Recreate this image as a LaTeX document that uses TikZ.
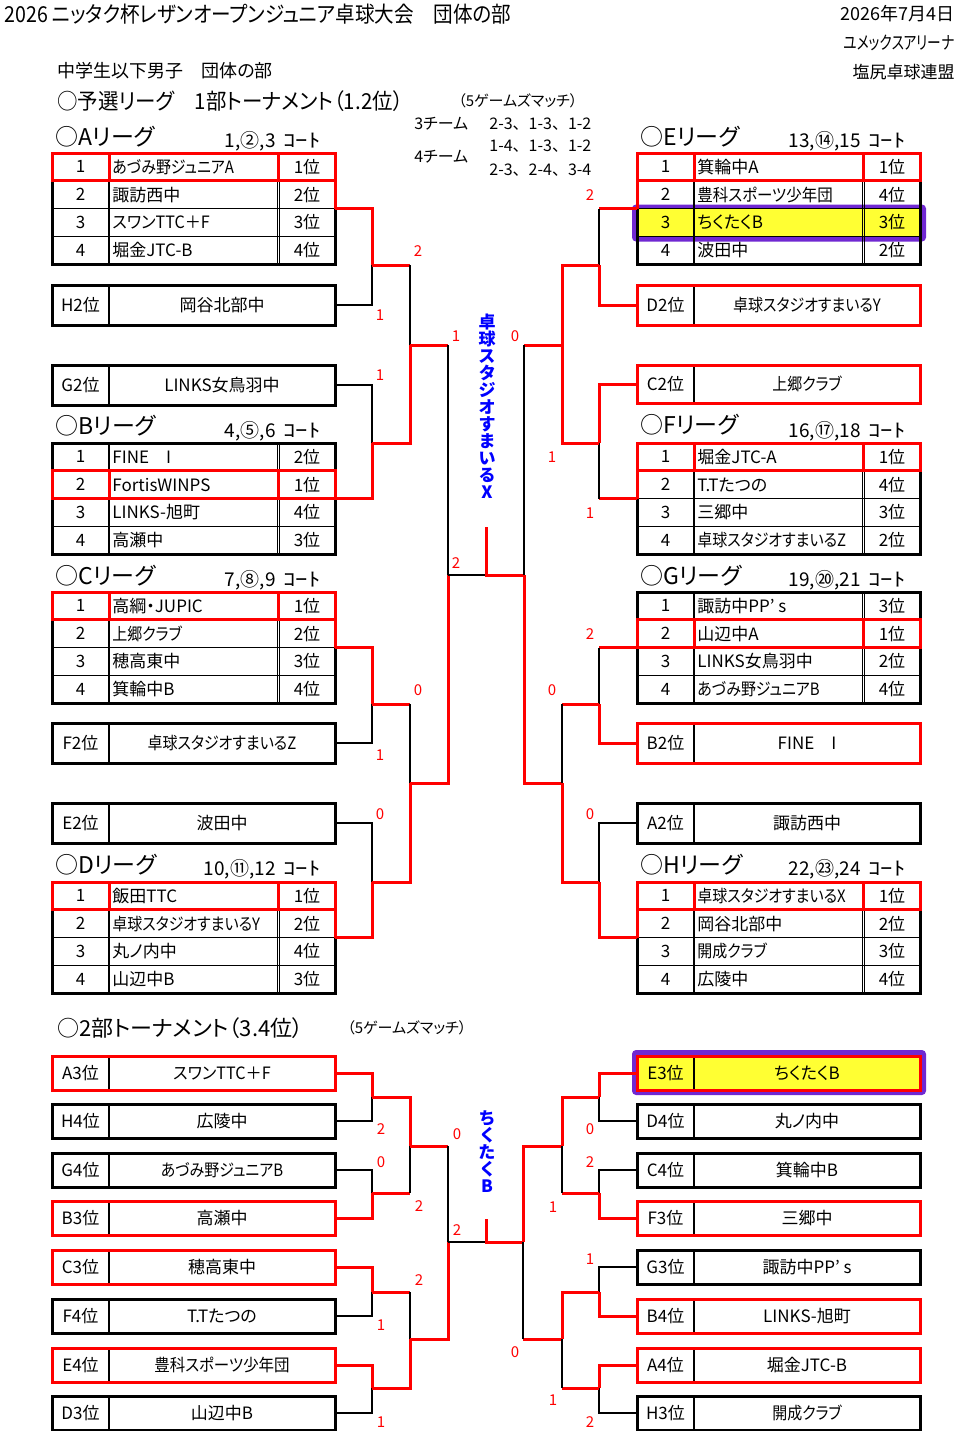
\documentclass[tikz,border=0pt]{standalone}
\usepackage{fontspec}
\usepackage{graphicx}
\setmainfont{Noto Sans CJK JP}[RawFeature=+palt]
\newfontfamily\jpf{Noto Sans CJK JP}
\definecolor{purp}{RGB}{112,40,210}
\definecolor{yel}{RGB}{255,255,51}
\newcommand\sx[2]{\scalebox{#1}[1]{#2}}
\newcommand\court{\hspace{4pt}\sx{1.3}{ｺｰﾄ}}
\tikzset{
 txt/.style={font=\fontsize{8.5}{9}\selectfont, inner sep=0pt},
 ttl/.style={font=\fontsize{11.5}{12}\selectfont, inner sep=0pt},
 crt/.style={font=\jpf\fontsize{9.5}{10}\selectfont, inner sep=0pt},
 sc/.style={text=red, font=\fontsize{7.5}{8}\selectfont, inner sep=0pt},
 rl/.style={draw=red, line width=1.5pt},
 bl/.style={draw=black, line width=0.65pt},
 thinl/.style={line width=0.65pt},
 framel/.style={line width=1.5pt},
 win/.style={text=blue, font=\bfseries\fontsize{8.5}{8.5}\selectfont, align=center, inner sep=0pt},
}
% league table frame: id, x0, y0
\newcommand\league[3]{%
  \coordinate (#1-e) at (#2+283,#3+55.5);
  \coordinate (#1-w) at (#2,#3+55.5);
  \foreach \k in {1,2,3} \draw[thinl] (#2,#3+27.75*\k) -- ++(283,0);
  \draw[thinl] (#2+57,#3) -- ++(0,111) (#2+225.5,#3) -- ++(0,111) (#2+227.5,#3) -- ++(0,111);
  \draw[framel] (#2,#3) rectangle ++(283,111);
}
% row text: id, x0, y0, i, num, name, rank
\newcommand\lrow[7]{%
  \node[txt] (#1-#4n) at (#2+28.5,#3+27.75*#4-13.875) {#5};
  \node[txt,anchor=west] (#1-#4t) at (#2+60,#3+27.75*#4-13.875) {#6};
  \node[txt] (#1-#4r) at (#2+255,#3+27.75*#4-13.875) {#7};
}
% highlighted row: x0, y0, i
\newcommand\hlrow[3]{%
  \draw[rl] (#1,#2+27.75*#3-27.75) rectangle ++(283,27.75);
  \draw[rl] (#1+57,#2+27.75*#3-27.75) -- ++(0,27.75) (#1+226.5,#2+27.75*#3-27.75) -- ++(0,27.75);
}
% team box: id, x0, ytop, h, label, name, colour
\newcommand\teambox[7]{%
  \draw[thinl] (#2+57,#3) -- ++(0,#4);
  \draw[line width=1.5pt, draw=#7] (#2,#3) rectangle ++(283,#4);
  \node[txt] (#1-l) at (#2+28.5,#3+#4/2) {#5};
  \node[txt] (#1-n) at (#2+170,#3+#4/2) {#6};
  \coordinate (#1-e) at (#2+283,#3+#4/2);
  \coordinate (#1-w) at (#2,#3+#4/2);
}
\begin{document}
\begin{tikzpicture}[x=0.5pt,y=-0.5pt]
\useasboundingbox (0,0) rectangle (960,1431);
\fill[white] (0,0) rectangle (960,1431);

% ---------- header ----------
\node[anchor=west, inner sep=0pt, font=\fontsize{11}{12}\selectfont] (title) at (4,14) {\sx{0.89}{2026 ニッタク杯レザンオープンジュニア卓球大会　団体の部}};
\node[anchor=east, inner sep=0pt, font=\fontsize{9}{10}\selectfont] (date) at (955,14) {2026年7月4日};
\node[anchor=east, inner sep=0pt, font=\fontsize{9}{10}\selectfont] (venue) at (955,43) {\sx{0.76}{ユメックスアリーナ}};
\node[anchor=east, inner sep=0pt, font=\fontsize{8.5}{10}\selectfont] (org) at (955,72) {塩尻卓球連盟};
\node[anchor=west, inner sep=0pt, font=\fontsize{9}{10}\selectfont] (sub) at (57,71) {中学生以下男子　団体の部};
\node[ttl, anchor=west, font=\fontsize{11}{12}\selectfont] (sec1) at (57,101) {\sx{0.93}{○予選リーグ　1部トーナメント（1.2位）}};
\node[anchor=west, inner sep=0pt, font=\fontsize{7.5}{8}\selectfont] (gm1) at (458,101) {（5ゲームズマッチ）};
\node[anchor=west, inner sep=0pt, font=\fontsize{8}{9}\selectfont] (t3) at (414,124) {3チーム};
\node[anchor=west, inner sep=0pt, font=\fontsize{8}{9}\selectfont] (t4) at (414,157) {4チーム};
\node[anchor=west, inner sep=0pt, font=\jpf\fontsize{8}{9}\selectfont] (o1) at (489,124) {2-3、1-3、1-2};
\node[anchor=west, inner sep=0pt, font=\jpf\fontsize{8}{9}\selectfont] (o2) at (489,146) {1-4、1-3、1-2};
\node[anchor=west, inner sep=0pt, font=\jpf\fontsize{8}{9}\selectfont] (o3) at (489,170) {2-3、2-4、3-4};

% ---------- league titles ----------
\node[ttl,anchor=west] (A-ttl) at (55,137) {○Aリーグ};
\node[crt,anchor=east] (A-crt) at (321,141) {1,②,3\court};
\node[ttl,anchor=west] (B-ttl) at (55,426) {○Bリーグ};
\node[crt,anchor=east] (B-crt) at (321,431) {4,⑤,6\court};
\node[ttl,anchor=west] (C-ttl) at (55,576) {○Cリーグ};
\node[crt,anchor=east] (C-crt) at (321,580) {7,⑧,9\court};
\node[ttl,anchor=west] (D-ttl) at (55,865) {○Dリーグ};
\node[crt,anchor=east] (D-crt) at (321,869) {10,⑪,12\court};
\node[ttl,anchor=west] (E-ttl) at (640,137) {○Eリーグ};
\node[crt,anchor=east] (E-crt) at (906,141) {13,⑭,15\court};
\node[ttl,anchor=west] (F-ttl) at (640,425) {○Fリーグ};
\node[crt,anchor=east] (F-crt) at (906,431) {16,⑰,18\court};
\node[ttl,anchor=west] (G-ttl) at (640,576) {○Gリーグ};
\node[crt,anchor=east] (G-crt) at (906,580) {19,⑳,21\court};
\node[ttl,anchor=west] (H-ttl) at (640,865) {○Hリーグ};
\node[crt,anchor=east] (H-crt) at (906,869) {22,㉓,24\court};

% ---------- league tables ----------
\draw[purp, line width=2.5pt, rounded corners=1pt] (634.5,207) rectangle (923.5,239);
\fill[yel] (637,208.5) rectangle (920,236.25);
\league{A}{52}{153}
\league{B}{52}{443}
\league{C}{52}{592}
\league{D}{52}{882}
\league{E}{637}{153}
\league{F}{637}{443}
\league{G}{637}{592}
\league{H}{637}{882}

\lrow{A}{52}{153}{1}{1}{\sx{0.88}{あづみ野ジュニアA}}{1位}
\lrow{A}{52}{153}{2}{2}{諏訪西中}{2位}
\lrow{A}{52}{153}{3}{3}{\sx{0.95}{スワンTTC＋F}}{3位}
\lrow{A}{52}{153}{4}{4}{堀金JTC-B}{4位}
\lrow{B}{52}{443}{1}{1}{FINE　I}{2位}
\lrow{B}{52}{443}{2}{2}{FortisWINPS}{1位}
\lrow{B}{52}{443}{3}{3}{LINKS-旭町}{4位}
\lrow{B}{52}{443}{4}{4}{高瀬中}{3位}
\lrow{C}{52}{592}{1}{1}{高綱・JUPIC}{1位}
\lrow{C}{52}{592}{2}{2}{\sx{0.88}{上郷クラブ}}{2位}
\lrow{C}{52}{592}{3}{3}{穂高東中}{3位}
\lrow{C}{52}{592}{4}{4}{箕輪中B}{4位}
\lrow{D}{52}{882}{1}{1}{飯田TTC}{1位}
\lrow{D}{52}{882}{2}{2}{\sx{0.88}{卓球スタジオすまいるY}}{2位}
\lrow{D}{52}{882}{3}{3}{丸ノ内中}{4位}
\lrow{D}{52}{882}{4}{4}{山辺中B}{3位}
\lrow{E}{637}{153}{1}{1}{箕輪中A}{1位}
\lrow{E}{637}{153}{2}{2}{\sx{0.91}{豊科スポーツ少年団}}{4位}
\lrow{E}{637}{153}{3}{3}{ちくたくB}{3位}
\lrow{E}{637}{153}{4}{4}{波田中}{2位}
\lrow{F}{637}{443}{1}{1}{堀金JTC-A}{1位}
\lrow{F}{637}{443}{2}{2}{T.Tたつの}{4位}
\lrow{F}{637}{443}{3}{3}{三郷中}{3位}
\lrow{F}{637}{443}{4}{4}{\sx{0.88}{卓球スタジオすまいるZ}}{2位}
\lrow{G}{637}{592}{1}{1}{諏訪中PP’ s}{3位}
\lrow{G}{637}{592}{2}{2}{山辺中A}{1位}
\lrow{G}{637}{592}{3}{3}{LINKS女鳥羽中}{2位}
\lrow{G}{637}{592}{4}{4}{\sx{0.88}{あづみ野ジュニアB}}{4位}
\lrow{H}{637}{882}{1}{1}{\sx{0.88}{卓球スタジオすまいるX}}{1位}
\lrow{H}{637}{882}{2}{2}{岡谷北部中}{2位}
\lrow{H}{637}{882}{3}{3}{\sx{0.88}{開成クラブ}}{3位}
\lrow{H}{637}{882}{4}{4}{広陵中}{4位}

\hlrow{52}{153}{1}
\hlrow{52}{443}{2}
\hlrow{52}{592}{1}
\hlrow{52}{882}{1}
\hlrow{637}{153}{1}
\hlrow{637}{443}{1}
\hlrow{637}{592}{2}
\hlrow{637}{882}{1}
\draw[rl] (335,180.75) -- (335,208.5);
\draw[rl] (335,619.75) -- (335,647.5);
\draw[rl] (335,909.75) -- (335,937.5);
\draw[rl] (637,180.75) -- (637,208.5);
\draw[rl] (637,470.75) -- (637,498.5);
\draw[rl] (637,909.75) -- (637,937.5);

% ---------- second-place boxes ----------
\teambox{H2}{52}{285}{40}{H2位}{岡谷北部中}{black}
\teambox{G2}{52}{365}{40}{G2位}{LINKS女鳥羽中}{black}
\teambox{F2}{52}{723}{40}{F2位}{\sx{0.88}{卓球スタジオすまいるZ}}{black}
\teambox{E2}{52}{803}{40}{E2位}{波田中}{black}
\teambox{D2}{637}{285}{40}{D2位}{\sx{0.88}{卓球スタジオすまいるY}}{red}
\teambox{C2}{637}{365}{38}{C2位}{\sx{0.88}{上郷クラブ}}{red}
\teambox{B2}{637}{723}{40}{B2位}{FINE　I}{red}
\teambox{A2}{637}{803}{40}{A2位}{諏訪西中}{black}

% ---------- upper bracket joints ----------
\coordinate (a1) at (372,265);
\coordinate (a2) at (372,443);
\coordinate (a3) at (372,704);
\coordinate (a4) at (372,882);
\coordinate (b1) at (410,345);
\coordinate (b2) at (410,783);
\coordinate (c1) at (448,575);
\coordinate (fin) at (486,575);
\coordinate (fintop) at (486,527);
\coordinate (d1) at (599,265);
\coordinate (d2) at (599,443);
\coordinate (d3) at (599,704);
\coordinate (d4) at (599,882);
\coordinate (e1) at (562,345);
\coordinate (e2) at (562,783);
\coordinate (f1) at (524,575);

% left upper
\draw[rl] (A-e) -| (a1);
\draw[bl] (H2-e) -| (a1);
\draw[rl] (a1) -- (a1 -| b1);
\draw[bl] (a1 -| b1) -- (b1);
\draw[bl] (G2-e) -| (a2);
\draw[rl] (B-e) -| (a2);
\draw[rl] (a2) -| (b1);
\draw[rl] (b1) -- (b1 -| c1);
\draw[bl] (b1 -| c1) -- (c1);
\draw[rl] (C-e) -| (a3);
\draw[bl] (F2-e) -| (a3);
\draw[rl] (a3) -- (a3 -| b2);
\draw[bl] (a3 -| b2) -- (b2);
\draw[bl] (E2-e) -| (a4);
\draw[rl] (D-e) -| (a4);
\draw[rl] (a4) -| (b2);
\draw[rl] (b2) -| (c1);
\draw[bl] (c1) -- (fin);
\draw[rl] (fintop) -- (fin) -- (f1);
% right upper
\draw[rl] (e1) -- (e1 -| f1);
\draw[bl] (e1 -| f1) -- (f1);
\draw[rl] (e2) -| (f1);
\draw[rl] (E-w) -- (E-w -| d1);
\draw[bl] (E-w -| d1) -- (d1);
\draw[rl] (D2-w) -| (d1);
\draw[rl] (d1) -| (e1);
\draw[rl] (C2-w) -| (d2);
\draw[rl] (F-w) -- (F-w -| d2);
\draw[bl] (F-w -| d2) -- (d2);
\draw[rl] (d2) -| (e1);
\draw[rl] (G-w) -- (G-w -| d3);
\draw[bl] (G-w -| d3) -- (d3);
\draw[rl] (B2-w) -| (d3);
\draw[rl] (d3) -- (d3 -| e2);
\draw[bl] (d3 -| e2) -- (e2);
\draw[bl] (A2-w) -| (d4);
\draw[rl] (H-w) -| (d4);
\draw[rl] (d4) -| (e2);

% scores upper
\node[sc] (u1) at (418,251) {2};
\node[sc] (u2) at (380,315) {1};
\node[sc] (u3) at (380,375) {1};
\node[sc] (u4) at (456,336) {1};
\node[sc] (u5) at (456,563) {2};
\node[sc] (u6) at (418,690) {0};
\node[sc] (u7) at (380,755) {1};
\node[sc] (u8) at (380,814) {0};
\node[sc] (u9) at (590,195) {2};
\node[sc] (u10) at (515,336) {0};
\node[sc] (u11) at (552,457) {1};
\node[sc] (u12) at (590,513) {1};
\node[sc] (u13) at (590,634) {2};
\node[sc] (u14) at (552,690) {0};
\node[sc] (u15) at (590,814) {0};

\node[win] (winA) at (487,406) {卓\\球\\ス\\タ\\ジ\\オ\\す\\ま\\い\\る\\X};

% ---------- second tournament ----------
\node[ttl, anchor=west, font=\fontsize{11}{12}\selectfont] (sec2) at (57,1028) {○2部トーナメント（3.4位）};
\node[anchor=west, inner sep=0pt, font=\fontsize{7.5}{8}\selectfont] (gm2) at (347,1028) {（5ゲームズマッチ）};

\draw[purp, line width=2.5pt, rounded corners=1pt] (634.5,1052.5) rectangle (923.5,1092.5);
\fill[yel] (637,1056) rectangle (920,1090);

\teambox{A3}{52}{1056}{34}{A3位}{\sx{0.95}{スワンTTC＋F}}{red}
\teambox{H4}{52}{1104}{34}{H4位}{広陵中}{black}
\teambox{G4}{52}{1153}{34}{G4位}{\sx{0.88}{あづみ野ジュニアB}}{black}
\teambox{B3}{52}{1201}{34}{B3位}{高瀬中}{red}
\teambox{C3}{52}{1250}{34}{C3位}{穂高東中}{red}
\teambox{F4}{52}{1299}{34}{F4位}{T.Tたつの}{black}
\teambox{E4}{52}{1348}{34}{E4位}{\sx{0.91}{豊科スポーツ少年団}}{red}
\teambox{D3}{52}{1396}{34}{D3位}{山辺中B}{black}
\teambox{E3}{637}{1056}{34}{E3位}{ちくたくB}{red}
\teambox{D4}{637}{1104}{34}{D4位}{丸ノ内中}{black}
\teambox{C4}{637}{1153}{34}{C4位}{箕輪中B}{black}
\teambox{F3}{637}{1201}{34}{F3位}{三郷中}{red}
\teambox{G3}{637}{1250}{34}{G3位}{諏訪中PP’ s}{black}
\teambox{B4}{637}{1299}{34}{B4位}{LINKS-旭町}{red}
\teambox{A4}{637}{1348}{34}{A4位}{堀金JTC-B}{red}
\teambox{H3}{637}{1396}{34}{H3位}{\sx{0.88}{開成クラブ}}{black}

\coordinate (p1) at (372,1097);
\coordinate (p2) at (372,1193);
\coordinate (p3) at (372,1292);
\coordinate (p4) at (372,1388);
\coordinate (q1) at (410,1146);
\coordinate (q2) at (410,1339);
\coordinate (r1) at (448,1242);
\coordinate (fin2) at (486,1242);
\coordinate (fin2top) at (486,1219);
\coordinate (s1) at (599,1097);
\coordinate (s2) at (599,1193);
\coordinate (s3) at (599,1292);
\coordinate (s4) at (599,1388);
\coordinate (t1) at (562,1146);
\coordinate (t2) at (562,1339);
\coordinate (v1) at (523,1242);

\draw[rl] (A3-e) -| (p1);
\draw[bl] (H4-e) -| (p1);
\draw[rl] (p1) -| (q1);
\draw[bl] (G4-e) -| (p2);
\draw[rl] (B3-e) -| (p2);
\draw[rl] (p2) -- (p2 -| q1);
\draw[bl] (p2 -| q1) -- (q1);
\draw[rl] (q1) -- (q1 -| r1);
\draw[bl] (q1 -| r1) -- (r1);
\draw[rl] (C3-e) -| (p3);
\draw[bl] (F4-e) -| (p3);
\draw[rl] (p3) -- (p3 -| q2);
\draw[bl] (p3 -| q2) -- (q2);
\draw[rl] (E4-e) -| (p4);
\draw[bl] (D3-e) -| (p4);
\draw[rl] (p4) -| (q2);
\draw[rl] (q2) -| (r1);
\draw[bl] (r1) -- (fin2);
\draw[rl] (fin2top) -- (fin2) -- (v1);
\draw[rl] (t1) -| (v1);
\draw[rl] (t2) -- (t2 -| v1);
\draw[bl] (t2 -| v1) -- (v1);
\draw[rl] (E3-w) -| (s1);
\draw[bl] (D4-w) -| (s1);
\draw[rl] (s1) -| (t1);
\draw[bl] (C4-w) -| (s2);
\draw[rl] (F3-w) -| (s2);
\draw[rl] (s2) -- (s2 -| t1);
\draw[bl] (s2 -| t1) -- (t1);
\draw[bl] (G3-w) -| (s3);
\draw[rl] (B4-w) -| (s3);
\draw[rl] (s3) -| (t2);
\draw[rl] (A4-w) -| (s4);
\draw[bl] (H3-w) -| (s4);
\draw[rl] (s4) -- (s4 -| t2);
\draw[bl] (s4 -| t2) -- (t2);

\node[sc] (w1) at (381,1129) {2};
\node[sc] (w2) at (381,1162) {0};
\node[sc] (w3) at (457,1134) {0};
\node[sc] (w4) at (419,1206) {2};
\node[sc] (w5) at (457,1230) {2};
\node[sc] (w6) at (419,1280) {2};
\node[sc] (w7) at (381,1325) {1};
\node[sc] (w8) at (381,1422) {1};
\node[sc] (w9) at (590,1129) {0};
\node[sc] (w10) at (590,1162) {2};
\node[sc] (w11) at (553,1207) {1};
\node[sc] (w12) at (590,1259) {1};
\node[sc] (w13) at (515,1352) {0};
\node[sc] (w14) at (553,1400) {1};
\node[sc] (w15) at (590,1422) {2};

\node[win] (winB) at (487,1152) {ち\\く\\た\\く\\B};
\end{tikzpicture}
\end{document}
